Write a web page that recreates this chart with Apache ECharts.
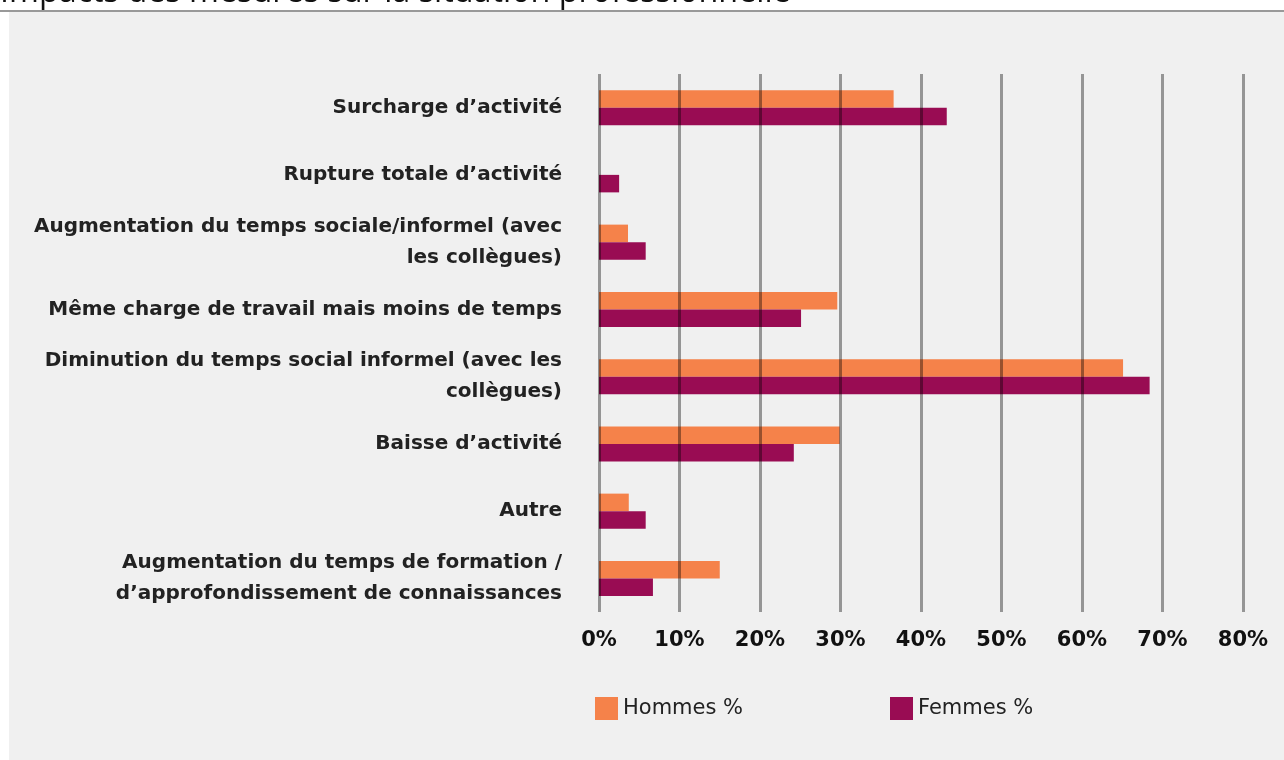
<!DOCTYPE html>
<html>
<head>
<meta charset="utf-8">
<script src="https://cdn.jsdelivr.net/npm/echarts@6/dist/echarts.min.js"></script>
<style>
  html, body { margin: 0; padding: 0; background: #fff; }
  #chart { width: 1284px; height: 760px; }
</style>
</head>
<body>
<div id="chart"></div>
<script>
const categories = [
  'Surcharge d’activité',
  'Rupture totale d’activité',
  'Augmentation du temps sociale/informel (avec\nles collègues)',
  'Même charge de travail mais moins de temps',
  'Diminution du temps social informel (avec les\ncollègues)',
  'Baisse d’activité',
  'Autre',
  'Augmentation du temps de formation /\nd’approfondissement de connaissances'
]
const hommes = [36.6, 0, 3.6, 29.6, 65.1, 29.9, 3.7, 15.0]
const femmes = [43.2, 2.5, 5.8, 25.1, 68.4, 24.2, 5.8, 6.7]
const seriesNames = ['Hommes %', 'Femmes %']
const colors = ['#F5824A', '#990C53']
const titleText = 'Impacts des mesures sur la situation professionnelle'

const font = '"Open Sans", Lato, sans-serif'
const wide = '"DejaVu Sans", "Open Sans", sans-serif'
const chart = echarts.init(document.getElementById('chart'))

chart.setOption({
  backgroundColor: '#ffffff',
  animation: false,
  graphic: [
    { type: 'rect', z: -1, shape: { x: 9, y: 12, width: 1275, height: 748 }, style: { fill: '#f0f0f0' } },
    { type: 'line', shape: { x1: 0, y1: 11, x2: 1284, y2: 11 }, style: { stroke: '#777', lineWidth: 1.5 } },
    { type: 'text', x: 0, y: 9, style: { text: titleText, font: '32.3px ' + font, fill: '#111', verticalAlign: 'bottom' } }
  ],
  legend: [
    {
      data: [seriesNames[0]], left: 595, top: 697, padding: 0, icon: 'rect',
      itemWidth: 23, itemHeight: 23,
      textStyle: { fontFamily: wide, fontSize: 21, color: '#222' }
    },
    {
      data: [seriesNames[1]], left: 890, top: 697, padding: 0, icon: 'rect',
      itemWidth: 23, itemHeight: 23,
      textStyle: { fontFamily: wide, fontSize: 21, color: '#222' }
    }
  ],
  grid: { left: 599, right: 41, top: 74, height: 538, containLabel: false },
  xAxis: {
    type: 'value', min: 0, max: 80, interval: 10, z: 5,
    axisLine: { show: false },
    axisTick: { show: false },
    axisLabel: {
      formatter: '{value}%', margin: 18,
      fontFamily: wide, fontSize: 21, fontWeight: 'bold', color: '#111'
    },
    splitLine: { show: true, lineStyle: { color: 'rgba(0,0,0,0.38)', width: 3 } }
  },
  yAxis: {
    type: 'category', data: categories, inverse: true,
    axisLine: { show: false },
    axisTick: { show: false },
    axisLabel: {
      margin: 37, fontFamily: wide, fontSize: 20, fontWeight: 'bold',
      color: '#222', lineHeight: 31, align: 'right'
    }
  },
  series: [
    { name: seriesNames[0], type: 'bar', data: hommes, barWidth: 17.5, barGap: '0%', itemStyle: { color: colors[0] } },
    { name: seriesNames[1], type: 'bar', data: femmes, barWidth: 17.5, barGap: '0%', itemStyle: { color: colors[1] } }
  ]
})
</script>
</body>
</html>
